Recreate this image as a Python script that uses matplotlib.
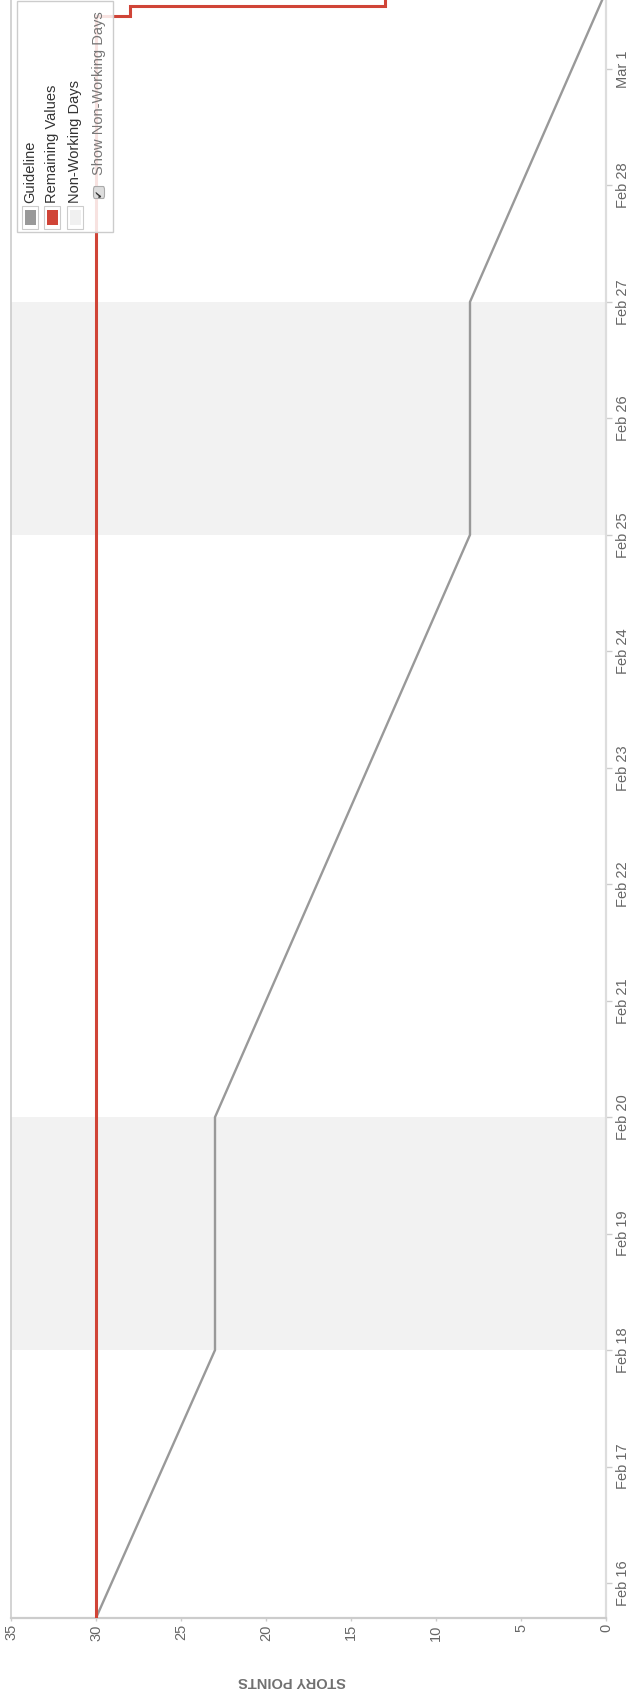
import matplotlib
matplotlib.use("Agg")
import matplotlib.pyplot as plt
import numpy as np
from matplotlib.patches import Rectangle, FancyBboxPatch

plt.rcParams['font.family'] = ['Liberation Sans', 'DejaVu Sans']

# ---------------- data ----------------
# time axis: days since Feb 16 00:00
date_labels = ["Feb 16", "Feb 17", "Feb 18", "Feb 19", "Feb 20", "Feb 21", "Feb 22",
               "Feb 23", "Feb 24", "Feb 25", "Feb 26", "Feb 27", "Feb 28", "Mar 1"]
date_ticks = list(range(len(date_labels)))

value_ticks = [0, 5, 10, 15, 20, 25, 30, 35]

guide_t = [-0.30, 2.0, 4.0, 9.0, 11.0, 13.667]
guide_v = [30, 23, 23, 8, 8, 0]

remain_t = [-0.30, 13.457, 13.543]
remain_v = [30, 28, 13]
remain_end = 13.75

nonwork_start = [2.0, 9.0]
nonwork_end = [4.0, 11.0]

legend_items = ["Guideline", "Remaining Values", "Non-Working Days"]
legend_colors = ["#999999", "#d04437", "#f0f0f0"]
toggle_label = "Show Non-Working Days"
axis_label = "STORY POINTS"

# ---------------- figure ----------------
W, H = 632, 1702
fig = plt.figure(figsize=(W / 100, H / 100), dpi=100)
fig.patch.set_facecolor("white")

def fx(px):
    return px / W

def fy(py):
    return 1 - py / H

ax = fig.add_axes([fx(11), fy(1618), fx(606) - fx(11), fy(0) - fy(1618)])
ax.set_xlim(35, 0)
ax.set_ylim(-0.30, 13.592)

# non-working bands
for s, e in zip(nonwork_start, nonwork_end):
    ax.axhspan(s, e, color="#f2f2f2", zorder=0, lw=0)

# guideline
ax.plot(guide_v, guide_t, color="#999999", lw=1.7, zorder=2, solid_joinstyle="miter")

# remaining values (step)
st_v = [remain_v[0]]
st_t = [remain_t[0]]
for i in range(1, len(remain_t)):
    st_v += [remain_v[i - 1], remain_v[i]]
    st_t += [remain_t[i], remain_t[i]]
st_v.append(remain_v[-1])
st_t.append(remain_end)
ax.plot(st_v, st_t, color="#d04437", lw=2.2, zorder=3, solid_joinstyle="miter")

# axes styling
ax.spines["top"].set_visible(False)
ax.spines["left"].set_color("#cccccc")
ax.spines["left"].set_linewidth(1.2)
ax.spines["bottom"].set_color("#cccccc")
ax.spines["bottom"].set_linewidth(1.6)
ax.spines["right"].set_color("#dddddd")
ax.spines["right"].set_linewidth(1.6)

ax.set_xticks(value_ticks)
ax.set_xticklabels([str(v) for v in value_ticks], rotation=90, color="#666666", fontsize=10.5)
ax.tick_params(axis="x", length=2.5, width=1, color="#cccccc", pad=2)

ax.yaxis.tick_right()
ax.set_yticks(date_ticks)
ax.set_yticklabels(date_labels, rotation=90, va="center", color="#666666", fontsize=10.5)
ax.tick_params(axis="y", length=4, width=1, color="#cccccc", pad=3)

# axis label (upside-down)
fig.text(fx(292), fy(1681), axis_label, rotation=180, ha="center", va="center",
         fontsize=10.5, fontweight="bold", color="#707070")

# ---------------- legend ----------------
box = Rectangle((fx(17), fy(232)), fx(113) - fx(17), fy(1) - fy(232),
                transform=fig.transFigure, facecolor="white", alpha=0.85,
                edgecolor="none", lw=0, zorder=10)
fig.add_artist(box)
box_edge = Rectangle((fx(17), fy(232)), fx(113) - fx(17), fy(1) - fy(232),
                     transform=fig.transFigure, facecolor="none",
                     edgecolor="#cccccc", lw=1.0, zorder=11)
fig.add_artist(box_edge)

col_x = [30, 52, 75]
sw_left = [22, 44, 67]
for i, (lab, col) in enumerate(zip(legend_items, legend_colors)):
    outer = Rectangle((fx(sw_left[i]), fy(229)), fx(16), 23.5 / H,
                      transform=fig.transFigure, facecolor="white",
                      edgecolor="#cccccc", lw=0.8, zorder=12)
    fig.add_artist(outer)
    inner = Rectangle((fx(sw_left[i] + 2.5), fy(225)), fx(11), 15 / H,
                      transform=fig.transFigure, facecolor=col,
                      edgecolor="none", lw=0, zorder=13)
    fig.add_artist(inner)
    fig.text(fx(col_x[i]), fy(203), lab, rotation=90, ha="center", va="bottom",
             fontsize=10.5, color="#333333", zorder=14)

# checkbox
cb = FancyBboxPatch((fx(93.5), fy(198.5)), fx(11), 12 / H,
                    boxstyle="round,pad=0,rounding_size=0.002",
                    transform=fig.transFigure, facecolor="#dddddd",
                    edgecolor="#aaaaaa", lw=0.8, zorder=12)
fig.add_artist(cb)
fig.text(fx(99.2), fy(192.5), "\u2714", rotation=90, ha="center", va="center",
         fontsize=7, color="#333333", family=["DejaVu Sans"], zorder=14)
fig.text(fx(99.5), fy(175), toggle_label, rotation=90, ha="center", va="bottom",
         fontsize=10.5, color="#777777", zorder=14)

fig.savefig("out.png", dpi=100, facecolor="white")
